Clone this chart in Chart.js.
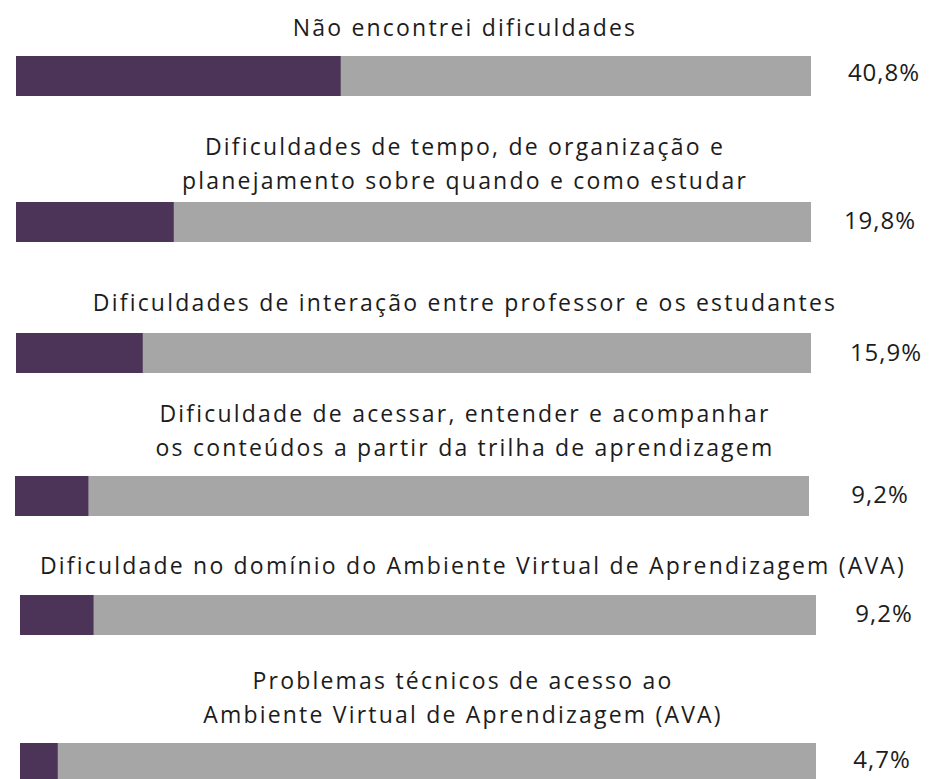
<!DOCTYPE html>
<html>
<head>
<meta charset="utf-8">
<script src="https://cdn.jsdelivr.net/npm/chart.js@4.4.0/dist/chart.umd.min.js"></script>
<style>
  html,body{margin:0;padding:0;background:#fff;width:932px;height:779px;overflow:hidden;}
  body{position:relative;font-family:"Open Sans","Noto Sans",sans-serif;color:#1c1c1c;}
  .lbl{position:absolute;left:0;width:932px;text-align:center;font-size:23px;line-height:34px;white-space:nowrap;letter-spacing:2.2px;}
  .pct{position:absolute;width:120px;text-align:center;font-size:24px;line-height:30px;letter-spacing:1px;}
  .bar{position:absolute;}
</style>
</head>
<body>
<script>
// data
const CATEGORIES = [
  ['Não encontrei dificuldades'],
  ['Dificuldades de tempo, de organização e','planejamento sobre quando e como estudar'],
  ['Dificuldades de interação entre professor e os estudantes'],
  ['Dificuldade de acessar, entender e acompanhar','os conteúdos a partir da trilha de aprendizagem'],
  ['Dificuldade no domínio do Ambiente Virtual de Aprendizagem (AVA)'],
  ['Problemas técnicos de acesso ao','Ambiente Virtual de Aprendizagem (AVA)']
];
const VALUES = [40.8, 19.8, 15.9, 9.2, 9.2, 4.7];
const MAX_VALUE = 100;

const COLORS = { fill:'#4B3457', track:'#A6A6A6' };

// layout per row: label top, label center x, bar box, percent center
const LAYOUT = [
  { labelTop:10,  labelX:465, bar:[16,56,795,40],  pctX:884, pctY:72 },
  { labelTop:129, labelX:465, bar:[16,202,795,40], pctX:880, pctY:220 },
  { labelTop:285, labelX:465, bar:[16,333,795,40], pctX:886, pctY:352 },
  { labelTop:396, labelX:465, bar:[15,476,794,40], pctX:880, pctY:494 },
  { labelTop:548, labelX:473, bar:[20,595,796,40], pctX:884, pctY:613 },
  { labelTop:663, labelX:463, bar:[20,743,796,40], pctX:882, pctY:759 }
];

function fmtPct(v){ return v.toFixed(1).replace('.',',') + '%'; }

CATEGORIES.forEach((lines,i)=>{
  const L = LAYOUT[i];
  const lbl = document.createElement('div');
  lbl.className = 'lbl';
  lbl.style.top = L.labelTop + 'px';
  lbl.style.left = (L.labelX - 466) + 'px';
  lbl.innerHTML = lines.join('<br>');
  document.body.appendChild(lbl);

  const pct = document.createElement('div');
  pct.className = 'pct';
  pct.style.left = (L.pctX - 60) + 'px';
  pct.style.top = (L.pctY - 15) + 'px';
  pct.textContent = fmtPct(VALUES[i]);
  document.body.appendChild(pct);

  const box = document.createElement('div');
  box.className = 'bar';
  const [x,y,w,h] = L.bar;
  box.style.left = x+'px'; box.style.top = y+'px';
  box.style.width = w+'px'; box.style.height = h+'px';
  const cv = document.createElement('canvas');
  box.appendChild(cv);
  document.body.appendChild(box);

  new Chart(cv, {
    type:'bar',
    data:{
      labels:[lines.join(' ')],
      datasets:[
        { data:[VALUES[i]], backgroundColor:COLORS.fill, borderWidth:0, barPercentage:1, categoryPercentage:1, order:0 },
        { data:[MAX_VALUE], backgroundColor:COLORS.track, borderWidth:0, barPercentage:1, categoryPercentage:1, order:1 }
      ]
    },
    options:{
      indexAxis:'y', responsive:true, maintainAspectRatio:false, animation:false,
      layout:{ padding:0 },
      plugins:{ legend:{display:false}, tooltip:{enabled:false} },
      scales:{
        x:{ display:false, min:0, max:MAX_VALUE, stacked:false },
        y:{ display:false, stacked:true }
      }
    }
  });
});
</script>
</body>
</html>
